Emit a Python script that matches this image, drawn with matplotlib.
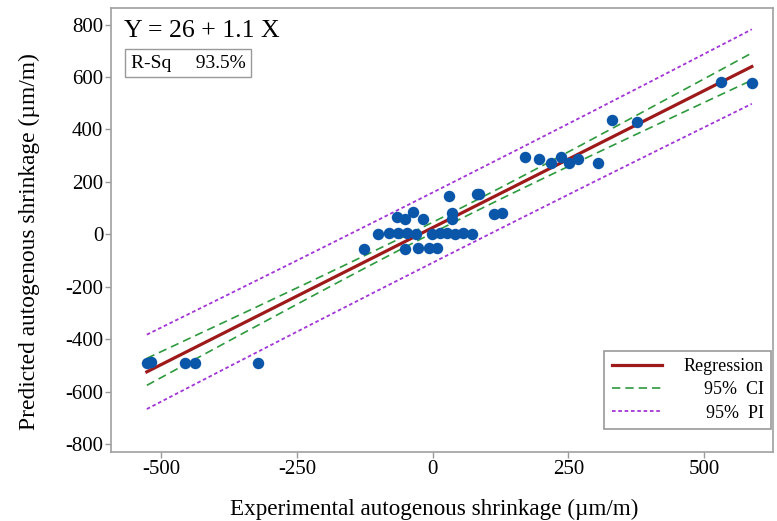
import numpy as np
import matplotlib
matplotlib.use("Agg")
import matplotlib.pyplot as plt

plt.rcParams['font.family'] = ['Liberation Serif', 'DejaVu Serif']

# Experimental (x) and predicted (y) autogenous shrinkage, µm/m
exp_x = [-527, -520, -457, -439, -322,
         -127, -101, -81, -64, -48, -31, -2, 13, 26, 41, 55, 72,
         -66, -52, -37, -18,
         -52, -28, -7, 7,
         35, 35, 30, 81, 86, 112, 127,
         330, 376, 170, 195, 217, 236, 251, 267, 304, 531, 588]
pred_y = [-490, -485, -490, -490, -490,
          -55, 2, 6, 6, 6, 2, 2, 6, 6, 2, 6, 2,
          67, 59, 86, 59,
          -55, -51, -51, -51,
          82, 59, 147, 154, 154, 78, 82,
          436, 428, 295, 288, 272, 295, 272, 288, 272, 580, 577]

x_ticks = [-500, -250, 0, 250, 500]
y_ticks = [-800, -600, -400, -200, 0, 200, 400, 600, 800]
eq_text = "Y = 26 + 1.1 X"
rsq_text = "R-Sq     93.5%"
t_crit = 2.02  # t(0.975, n-2)

x = np.array(exp_x, float)
y = np.array(pred_y, float)
n = len(x)
b1, b0 = np.polyfit(x, y, 1)
res = y - (b0 + b1 * x)
s = np.sqrt(np.sum(res ** 2) / (n - 2))
xbar = x.mean()
sxx = np.sum((x - xbar) ** 2)
xg = np.linspace(x.min(), x.max(), 200)
yg = b0 + b1 * xg
ci = t_crit * s * np.sqrt(1 / n + (xg - xbar) ** 2 / sxx)
pi = t_crit * s * np.sqrt(1 + 1 / n + (xg - xbar) ** 2 / sxx)

fig = plt.figure(figsize=(7.77, 5.21), dpi=100)
ax = fig.add_axes([111 / 777, 1 - 452 / 521, (773 - 111) / 777, (452 - 8) / 521])

red = '#9E1A1A'
green = '#2E9A3E'
purple = '#A335D6'
blue = '#0A56A8'

ax.scatter(x, y, s=68, color=blue, zorder=4, linewidths=0)
l1, = ax.plot(xg, yg, color=red, lw=2.3, zorder=3, label='Regression')
l2, = ax.plot(xg, yg + ci, color=green, lw=1.2, ls=(0, (5, 3)), zorder=2, label='95%  CI')
ax.plot(xg, yg - ci, color=green, lw=1.2, ls=(0, (5, 3)), zorder=2)
l3, = ax.plot(xg, yg + pi, color=purple, lw=1.3, ls=(0, (2, 1.5)), zorder=2, label='95%  PI')
ax.plot(xg, yg - pi, color=purple, lw=1.3, ls=(0, (2, 1.5)), zorder=2)

ax.set_xlim(-593, 627)
ax.set_ylim(-830, 863)
ax.set_xticks(x_ticks)
ax.set_xticklabels([str(v) for v in x_ticks])
ax.set_yticks(y_ticks)
ax.set_yticklabels([str(v) for v in y_ticks])
ax.tick_params(axis='both', labelsize=15, color='#999999', length=4, width=1, direction='out')
ax.tick_params(axis='y', pad=1.5)
ax.tick_params(axis='x', pad=2)
for sp in ax.spines.values():
    sp.set_color('#A0A0A0')
    sp.set_linewidth(1.2)

ax.set_xlabel('Experimental autogenous shrinkage (\u00b5m/m)', fontsize=16.7, labelpad=14)
ax.set_ylabel('Predicted autogenous shrinkage (\u00b5m/m)', fontsize=16.9, labelpad=18)
ax.xaxis.label.set_x(0.488)
ax.yaxis.label.set_y(0.475)

ax.text(0.019, 0.948, eq_text, transform=ax.transAxes, fontsize=18.5, va='center', ha='left')
ax.text(0.030, 0.876, rsq_text, transform=ax.transAxes, fontsize=14, va='center', ha='left',
        bbox=dict(boxstyle='square,pad=0.3', fc='white', ec='#999999', lw=1))

leg = ax.legend(handles=[l1, l2, l3], loc='lower right', bbox_to_anchor=(0.997, 0.052),
                borderaxespad=0, fancybox=False, framealpha=1, edgecolor='#999999',
                fontsize=13, handlelength=2.8, handletextpad=1.2, labelspacing=0.35,
                borderpad=0.4)
leg.get_frame().set_linewidth(1.2)

fig.canvas.draw()
texts = leg.get_texts()
widths = [t.get_window_extent().width for t in texts]
mw = max(widths)
for t, w in zip(texts, widths):
    t.set_position((mw - w, 0))

fig.savefig('out.png', dpi=100)
